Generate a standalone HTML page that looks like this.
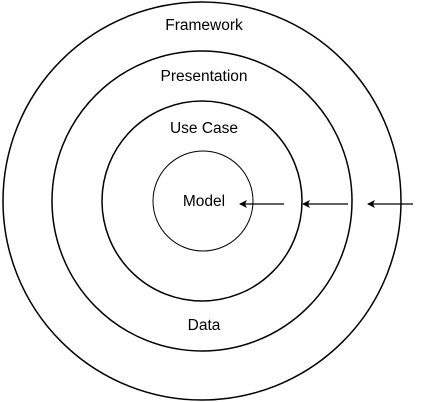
<!DOCTYPE html>
<html><head><style>html,body{margin:0;padding:0;background:#fff;width:422px;height:402px;overflow:hidden}</style></head>
<body>
<svg width="422" height="402" viewBox="0 0 422 402" xmlns="http://www.w3.org/2000/svg" font-family="Liberation Sans, Arial, sans-serif" font-size="15.5">
<defs><marker id="a" markerWidth="8" markerHeight="8" refX="7" refY="4" orient="auto" markerUnits="userSpaceOnUse"><path d="M0,0 L8,4 L0,8 L2,4 Z" fill="#000"/></marker></defs>
<g fill="none" stroke="#000">
<circle cx="202" cy="201" r="199" stroke-width="1.5"/>
<circle cx="202" cy="201" r="150" stroke-width="1.5"/>
<circle cx="202" cy="201" r="100" stroke-width="1.5"/>
<circle cx="203" cy="201" r="50" stroke-width="1"/>
<line x1="284" y1="204" x2="240" y2="204" stroke-width="1.2" marker-end="url(#a)"/>
<line x1="348" y1="204" x2="303" y2="204" stroke-width="1.2" marker-end="url(#a)"/>
<line x1="413" y1="204" x2="368" y2="204" stroke-width="1.2" marker-end="url(#a)"/>
</g>
<g text-anchor="middle" fill="#000">
<text x="204" y="30">Framework</text>
<text x="204" y="81">Presentation</text>
<text x="204" y="133">Use Case</text>
<text x="204" y="206">Model</text>
<text x="204" y="330">Data</text>
</g>
</svg>
</body></html>
